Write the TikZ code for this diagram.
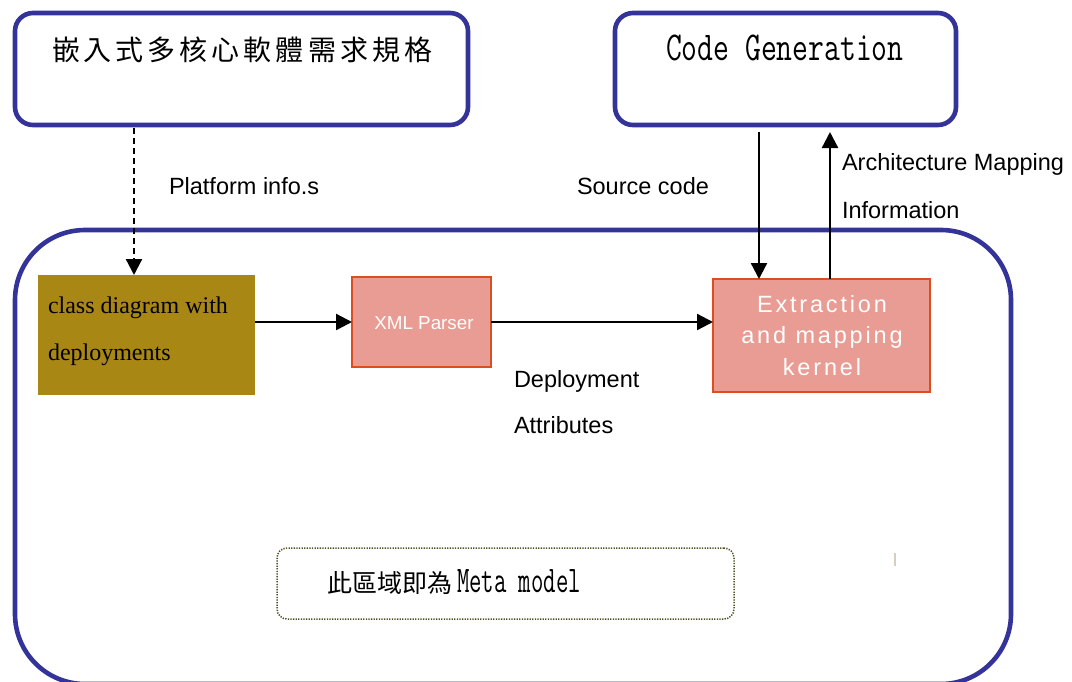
\documentclass[tikz,border=0pt]{standalone}
\usepackage{fontspec}
\setmainfont{Liberation Serif}
\newfontfamily\cjkfont{Noto Sans CJK TC}
\newfontfamily\titlecjk[LetterSpace=14.3]{Noto Sans CJK TC}
\newfontfamily\arialfont{Liberation Sans}
\newfontfamily\kernelfont[LetterSpace=12]{Liberation Sans}
\usetikzlibrary{arrows.meta,calc}

\definecolor{navyline}{HTML}{333399}
\definecolor{olivefill}{HTML}{A98714}
\definecolor{pinkfill}{HTML}{E99C93}
\definecolor{pinkedge}{HTML}{DA4E1F}
\definecolor{dotline}{HTML}{4F4F22}
\definecolor{tickgray}{HTML}{D6CFBF}

\tikzset{
  x=1pt, y=-1pt,
  outerbox/.style={draw=navyline, line width=4.6pt, rounded corners=18pt,
    inner sep=0pt, outer sep=0pt},
  modelbox/.style={draw=navyline, line width=4.6pt, rounded corners=70pt,
    inner sep=0pt, outer sep=0pt},
  umlbox/.style={fill=olivefill, draw=none, inner sep=0pt, outer sep=0pt},
  procbox/.style={fill=pinkfill, draw=pinkedge, line width=2.4pt,
    inner sep=0pt, outer sep=0pt},
  notebox/.style={draw=dotline, line width=1.5pt, dash pattern=on 1.3pt off 1.3pt,
    rounded corners=10pt, inner sep=0pt, outer sep=0pt},
  flow/.style={-{Triangle[length=16pt,width=16pt]}, line width=2.3pt, black},
  dashflow/.style={flow, dash pattern=on 6pt off 4pt},
  txt/.style={anchor=base west, inner sep=0pt, outer sep=0pt},
  lbl/.style={txt, font=\arialfont\fontsize{23.5}{28}\selectfont},
  serifl/.style={txt, font=\fontsize{24}{28}\selectfont},
  kern/.style={anchor=base, inner sep=0pt, text=white,
    font=\kernelfont\fontsize{23.5}{28}\selectfont},
}

\begin{document}
\begin{tikzpicture}
\useasboundingbox (0,0) rectangle (1072,681);

% the meta model region
\node[modelbox, minimum width=996pt, minimum height=454pt] (meta) at (513,457) {};

% top boxes
\node[outerbox, minimum width=453pt, minimum height=112pt] (spec) at (241.5,69) {};
\node[txt, font=\titlecjk\fontsize{28}{28}\selectfont] (spectitle) at (52,60) {嵌入式多核心軟體需求規格};

\node[outerbox, minimum width=341pt, minimum height=112pt] (codegen) at (785.5,69) {};
\node[txt] (cgtitle) at (666,60) {\scalebox{0.75}[1]{\fontsize{41}{41}\selectfont\ttfamily Code Generation}};

% inner processing chain
\node[umlbox, minimum width=217pt, minimum height=120pt] (uml) at (146.5,335) {};
\node[serifl] (umlA) at (48,313) {class diagram with};
\node[serifl] (umlB) at (48,360) {deployments};

\node[procbox, minimum width=139pt, minimum height=90pt] (xml) at (421.5,322) {};
\node[anchor=base, inner sep=0pt, text=white, font=\arialfont\fontsize{18.8}{22}\selectfont] (xmltext) at (424,329) {XML Parser};

\node[procbox, minimum width=217pt, minimum height=113pt] (kernel) at (821.5,335.5) {};
\node[kern] (kernA) at (822,312) {Extraction};
\node[kern] (kernB) at (822,343) {and mapping};
\node[kern] (kernC) at (822,375) {kernel};

% note
\node[notebox, minimum width=457pt, minimum height=71pt] (note) at (505.5,583.5) {};
\node[txt] (notetext) at (327,592) {{\cjkfont\fontsize{25}{25}\selectfont 此區域即為}\hspace{5pt}\scalebox{0.64}[1]{\fontsize{37.6}{38}\selectfont\ttfamily Meta model}};

\draw[tickgray, line width=1.5pt] (895,553) -- (895,566);

% connectors
\coordinate (dashx) at ($(uml.north west)+(96,0)$);
\draw[dashflow, shorten <=3pt] (dashx |- spec.south) -- (dashx);
\draw[flow] (xml.west -| uml.east) -- (xml.west);
\draw[flow] (xml.east) -- (xml.east -| kernel.west);
\coordinate (srcx) at ($(kernel.north west)+(46,0)$);
\coordinate (archx) at ($(kernel.north west)+(117,0)$);
\draw[flow, shorten <=7pt] (srcx |- codegen.south) -- (srcx);
\draw[flow, shorten >=7pt] (archx) -- (archx |- codegen.south);

% labels
\node[lbl] (plat) at (169,194) {Platform info.s};
\node[lbl] (src) at (577,194) {Source code};
\node[lbl] (archA) at (842,170) {Architecture Mapping};
\node[lbl] (archB) at (842,218) {Information};
\node[lbl] (depA) at (514,387) {Deployment};
\node[lbl] (depB) at (514,433) {Attributes};
\end{tikzpicture}
\end{document}
